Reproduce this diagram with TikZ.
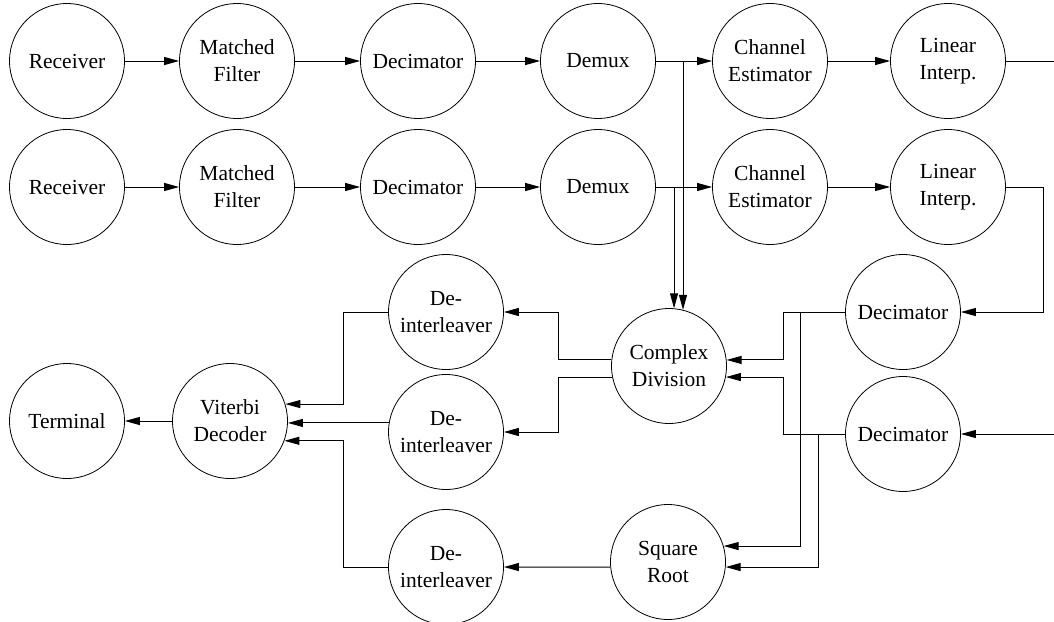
\documentclass[tikz,border=0pt]{standalone}
\usepackage{amsmath}
\usepackage{fontspec}
\setmainfont{Liberation Serif}
\usetikzlibrary{arrows.meta}

\begin{document}
\begin{tikzpicture}[x=1pt, y=-1pt,
	block/.style={draw, circle, line width=0.8pt, minimum size=115pt, inner sep=0pt,
		align=center, font=\fontsize{21.5}{27}\selectfont},
	arr/.style={line width=1pt, -{Triangle[length=15pt, width=8pt]}},
	wire/.style={line width=1pt}]

\useasboundingbox (0,0) rectangle (1054,621);

\def\ya{61}
\def\yb{187}

\node [block] (rx1)  at ( 67,\ya) {Receiver};
\node [block] (mf1)  at (237,\ya) {Matched\\Filter};
\node [block] (dc1)  at (418,\ya) {Decimator};
\node [block] (dmx1) at (598,\ya) {Demux};
\node [block] (ce1)  at (770,\ya) {Channel\\Estimator};
\node [block] (li1)  at (948,\ya) {Linear\\Interp.};

\node [block] (rx2)  at ( 67,\yb) {Receiver};
\node [block] (mf2)  at (237,\yb) {Matched\\Filter};
\node [block] (dc2)  at (418,\yb) {Decimator};
\node [block] (dmx2) at (598,\yb) {Demux};
\node [block] (ce2)  at (770,\yb) {Channel\\Estimator};
\node [block] (li2)  at (948,\yb) {Linear\\Interp.};

\node [block] (dm1)  at (903,312) {Decimator};
\node [block] (dm2)  at (903,434) {Decimator};
\node [block] (cd)   at (669,366) {Complex\\Division};
\node [block] (sq)   at (668,562) {Square\\Root};
\node [block] (di1)  at (446,312) {De-\\interleaver};
\node [block] (di2)  at (446,432) {De-\\interleaver};
\node [block] (di3)  at (446,567) {De-\\interleaver};
\node [block] (vit)  at (230,421) {Viterbi\\Decoder};
\node [block] (term) at ( 67,421) {Terminal};

\coordinate (e1) at (1054,\ya);
\coordinate (e2) at (1054,434);
\coordinate (t1) at (1043,312);
\coordinate (x343) at (343,0);
\coordinate (x558) at (558,0);
\coordinate (x783) at (783,0);
\coordinate (x800) at (800,0);
\coordinate (x818) at (818,0);

\draw [arr] (rx1) -- (mf1);
\draw [arr] (mf1) -- (dc1);
\draw [arr] (dc1) -- (dmx1);
\draw [arr] (dmx1) -- (ce1);
\draw [arr] (ce1) -- (li1);
\draw [wire] (li1) -- (e1);

\draw [arr] (rx2) -- (mf2);
\draw [arr] (mf2) -- (dc2);
\draw [arr] (dc2) -- (dmx2);
\draw [arr] (dmx2) -- (ce2);
\draw [arr] (ce2) -- (li2);
\draw [arr] (li2.east) -| (t1) -- (dm1);
\draw [arr] (e2) -- (dm2);

\draw [arr] (dmx1 -| cd.76) -- (cd.76);
\draw [arr] (dmx2 -| cd.85) -- (cd.85);

\draw [arr] (dm1.west) -| (cd.6 -| x783) -- (cd.6);
\draw [arr] (dm1.west -| x800) |- (sq.16);
\draw [arr] (dm2.west) -| (cd.-11 -| x783) -- (cd.-11);
\draw [arr] (dm2.west -| x818) |- (sq.-5);

\draw [arr] (cd.174) -| (di1 -| x558) -- (di1);
\draw [arr] (cd.191) -| (di2 -| x558) -- (di2);
\draw [arr] (sq.-175) -- (di3);

\draw [arr] (di1.west) -| (vit.17 -| x343) -- (vit.17);
\draw [arr] (di2.171) -- (di2.171 -| vit.east);
\draw [arr] (di3.west) -| (vit.-20 -| x343) -- (vit.-20);
\draw [arr] (vit) -- (term);

\end{tikzpicture}
\end{document}
